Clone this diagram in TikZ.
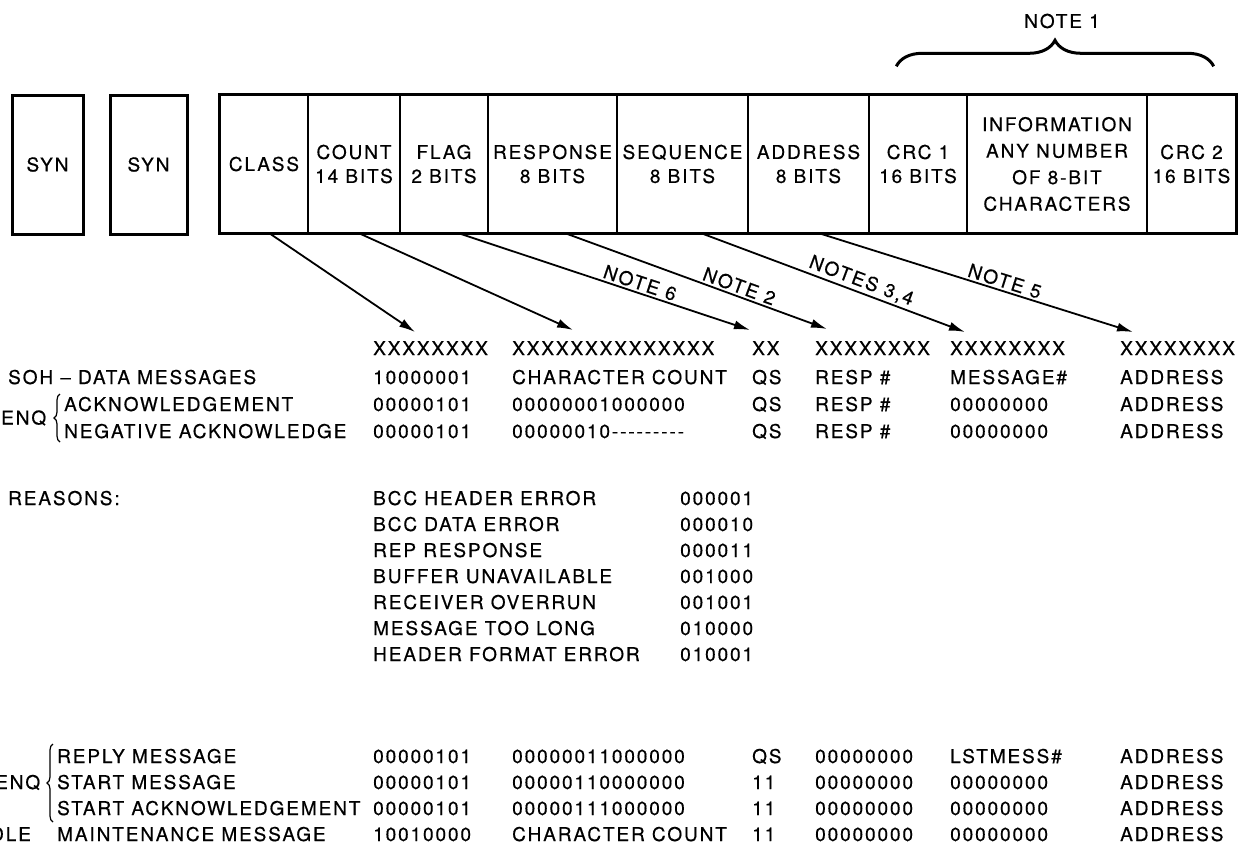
\documentclass[tikz,border=0pt]{standalone}
\usepackage{fontspec}
\setmainfont{TeX Gyre Heros}[LetterSpace=10,Ligatures=TeXOff,FakeBold=0.5]
\usetikzlibrary{arrows.meta,decorations.pathreplacing}

\begin{document}
\begin{tikzpicture}[
    x=1pt, y=-1pt,
    every node/.style={font=\fontsize{19}{24}\selectfont},
    synbox/.style={draw, line width=3pt, minimum height=139pt, inner sep=0pt},
    field/.style={draw, line width=1.4pt, minimum height=138pt, inner sep=0pt, align=center},
    cell/.style={anchor=base west, inner sep=0pt},
    ptr/.style={-{Latex[length=16pt,width=9pt]}, line width=1.8pt},
    note/.style={sloped, above, inner sep=2pt},
    curly/.style={decorate, decoration={brace, amplitude=#1}, line width=1.2pt},
    curly/.default=6pt
]
\useasboundingbox (0,0) rectangle (1243,857);

% Sync characters
\node[synbox, minimum width=71pt] (syna) at (47.5,164.5) {SYN};
\node[synbox, minimum width=77pt] (synb) at (148.5,164.5) {SYN};

% Message fields
\node[field, minimum width=88pt] (class) at (264,164) {CLASS};
\node[field, minimum width=92pt] (count) at (354,164) {COUNT\\14 BITS};
\node[field, minimum width=88pt] (flag) at (444,164) {FLAG\\2 BITS};
\node[field, minimum width=129pt] (resp) at (552.5,164) {RESPONSE\\8 BITS};
\node[field, minimum width=131pt] (seq) at (682.5,164) {SEQUENCE\\8 BITS};
\node[field, minimum width=121pt] (addr) at (808.5,164) {ADDRESS\\8 BITS};
\node[field, minimum width=98pt] (crca) at (918,164) {CRC 1\\16 BITS};
\node[field, minimum width=180pt, font=\fontsize{19}{26.5}\selectfont] (info) at (1057,164) {INFORMATION\\ANY NUMBER\\OF 8-BIT\\CHARACTERS};
\node[field, minimum width=89pt] (crcb) at (1191.5,164) {CRC 2\\16 BITS};
\draw[line width=3pt] (class.north west) rectangle (crcb.south east);

% Note 1 over the CRC and information fields
\draw[curly=26pt, line width=3pt] ([xshift=28pt,yshift=28pt]crca.north west) -- ([xshift=-23pt,yshift=28pt]crcb.north east);
\node (note1) at (1062,21) {NOTE 1};

% Bit patterns
\node[cell] (hdr-b) at (373,355) {XXXXXXXX};
\node[cell] (hdr-c) at (512,355) {XXXXXXXXXXXXXX};
\node[cell] (hdr-d) at (752,355) {XX};
\node[cell] (hdr-e) at (815,355) {XXXXXXXX};
\node[cell] (hdr-f) at (950,355) {XXXXXXXX};
\node[cell] (hdr-g) at (1120,355) {XXXXXXXX};

% Field pointers
\draw[ptr] ([xshift=6pt]class.south) -- ([xshift=42pt,yshift=23pt]hdr-b.base west);
\draw[ptr] ([xshift=6pt]count.south) -- ([xshift=61pt,yshift=25pt]hdr-c.base west);
\draw[ptr] ([xshift=16pt]flag.south) -- node[note, pos=0.61] {NOTE 6} ([xshift=-2pt,yshift=25pt]hdr-d.base west);
\draw[ptr] ([xshift=14pt]resp.south) -- node[note, pos=0.65] {NOTE 2} ([xshift=12pt,yshift=26pt]hdr-e.base west);
\draw[ptr] ([xshift=20pt]seq.south) -- node[note, pos=0.59] {NOTES 3,4} ([xshift=15pt,yshift=23pt]hdr-f.base west);
\draw[ptr] ([xshift=12pt]addr.south) -- node[note, pos=0.58] {NOTE 5} ([xshift=13pt,yshift=23pt]hdr-g.base west);

% Data and acknowledge messages
\node[cell] (soh-a) at (8,384) {SOH – DATA MESSAGES};
\node[cell] (soh-b) at (373,384) {10000001};
\node[cell] (soh-c) at (512,384) {CHARACTER COUNT};
\node[cell] (soh-d) at (752,384) {QS};
\node[cell] (soh-e) at (815,384) {RESP \#};
\node[cell] (soh-f) at (950,384) {MESSAGE\#};
\node[cell] (soh-g) at (1120,384) {ADDRESS};

\node[cell] (enq-a) at (1,424.5) {ENQ};
\draw[curly] (60,442) -- (60,394);

\node[cell] (ack-a) at (64,411) {ACKNOWLEDGEMENT};
\node[cell] (ack-b) at (373,411) {00000101};
\node[cell] (ack-c) at (512,411) {00000001000000};
\node[cell] (ack-d) at (752,411) {QS};
\node[cell] (ack-e) at (815,411) {RESP \#};
\node[cell] (ack-f) at (950,411) {00000000};
\node[cell] (ack-g) at (1120,411) {ADDRESS};

\node[cell] (nak-a) at (64,438) {NEGATIVE ACKNOWLEDGE};
\node[cell] (nak-b) at (373,438) {00000101};
\node[cell] (nak-c) at (512,438) {00000010---------};
\node[cell] (nak-d) at (752,438) {QS};
\node[cell] (nak-e) at (815,438) {RESP \#};
\node[cell] (nak-f) at (950,438) {00000000};
\node[cell] (nak-g) at (1120,438) {ADDRESS};

% Reasons
\node[cell] (why) at (8,505) {REASONS:};
\node[cell] (r1-a) at (373,505) {BCC HEADER ERROR};
\node[cell] (r1-b) at (680,505) {000001};
\node[cell] (r2-a) at (373,531) {BCC DATA ERROR};
\node[cell] (r2-b) at (680,531) {000010};
\node[cell] (r3-a) at (373,557) {REP RESPONSE};
\node[cell] (r3-b) at (680,557) {000011};
\node[cell] (r4-a) at (373,583) {BUFFER UNAVAILABLE};
\node[cell] (r4-b) at (680,583) {001000};
\node[cell] (r5-a) at (373,609) {RECEIVER OVERRUN};
\node[cell] (r5-b) at (680,609) {001001};
\node[cell] (r6-a) at (373,635) {MESSAGE TOO LONG};
\node[cell] (r6-b) at (680,635) {010000};
\node[cell] (r7-a) at (373,661) {HEADER FORMAT ERROR};
\node[cell] (r7-b) at (680,661) {010001};

% Reply, start and maintenance messages
\node[cell] (enq-b) at (-5,789) {ENQ};
\draw[curly] (53,822) -- (53,744);

\node[cell] (rep-a) at (57,763) {REPLY MESSAGE};
\node[cell] (rep-b) at (373,763) {00000101};
\node[cell] (rep-c) at (512,763) {00000011000000};
\node[cell] (rep-d) at (752,763) {QS};
\node[cell] (rep-e) at (815,763) {00000000};
\node[cell] (rep-f) at (950,763) {LSTMESS\#};
\node[cell] (rep-g) at (1120,763) {ADDRESS};

\node[cell] (sta-a) at (57,789) {START MESSAGE};
\node[cell] (sta-b) at (373,789) {00000101};
\node[cell] (sta-c) at (512,789) {00000110000000};
\node[cell] (sta-d) at (752,789) {11};
\node[cell] (sta-e) at (815,789) {00000000};
\node[cell] (sta-f) at (950,789) {00000000};
\node[cell] (sta-g) at (1120,789) {ADDRESS};

\node[cell] (sak-a) at (57,815) {START ACKNOWLEDGEMENT};
\node[cell] (sak-b) at (373,815) {00000101};
\node[cell] (sak-c) at (512,815) {00000111000000};
\node[cell] (sak-d) at (752,815) {11};
\node[cell] (sak-e) at (815,815) {00000000};
\node[cell] (sak-f) at (950,815) {00000000};
\node[cell] (sak-g) at (1120,815) {ADDRESS};

\node[cell] (dle) at (-10,841) {DLE};
\node[cell] (mnt-a) at (57,841) {MAINTENANCE MESSAGE};
\node[cell] (mnt-b) at (373,841) {10010000};
\node[cell] (mnt-c) at (512,841) {CHARACTER COUNT};
\node[cell] (mnt-d) at (752,841) {11};
\node[cell] (mnt-e) at (815,841) {00000000};
\node[cell] (mnt-f) at (950,841) {00000000};
\node[cell] (mnt-g) at (1120,841) {ADDRESS};

\end{tikzpicture}
\end{document}
